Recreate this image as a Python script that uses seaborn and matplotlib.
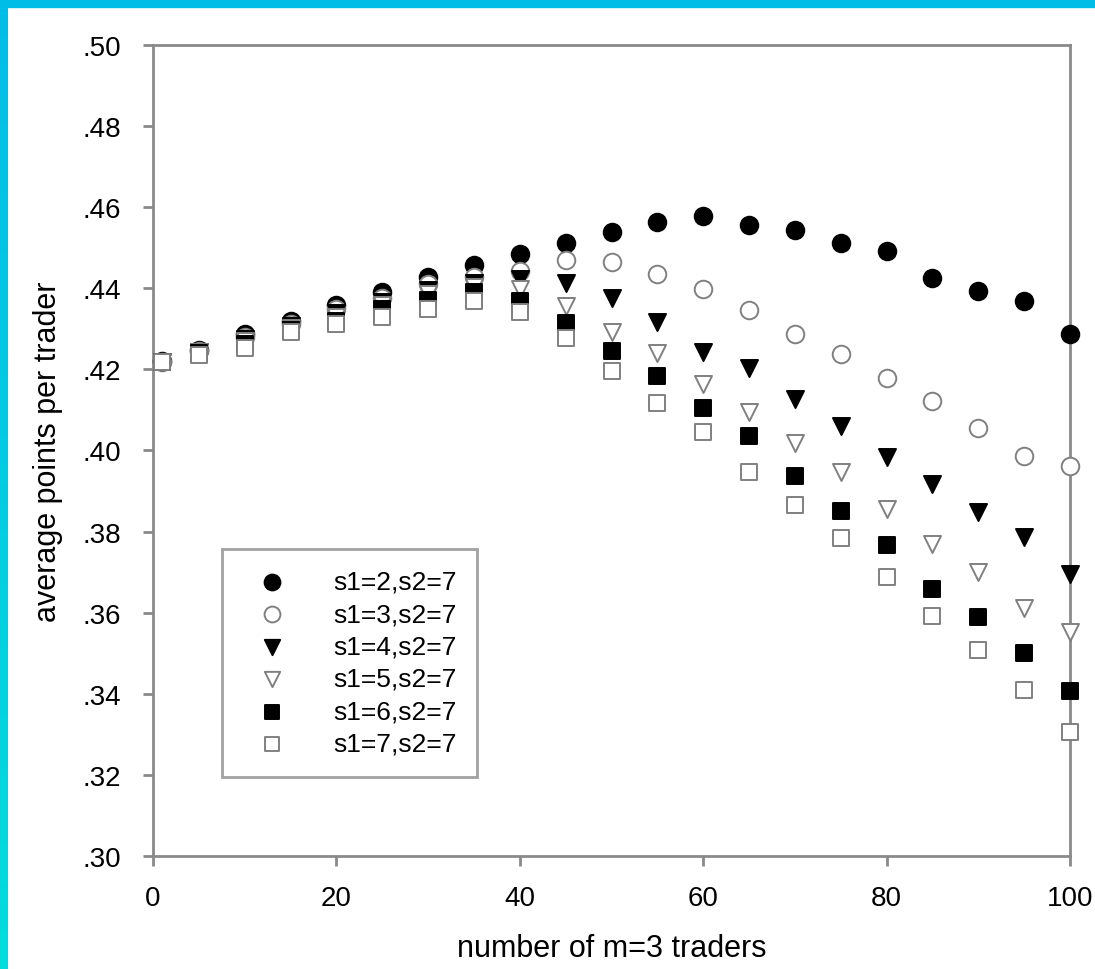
import numpy as np
import pandas as pd
import matplotlib
matplotlib.use("Agg")
import matplotlib.pyplot as plt
from matplotlib.colors import LinearSegmentedColormap
from matplotlib.ticker import FuncFormatter
import seaborn as sns

# number of m=3 traders
traders = [1, 5, 10, 15, 20, 25, 30, 35, 40, 45, 50, 55, 60, 65, 70, 75, 80, 85, 90, 95, 100]

s1_2 = [0.4220, 0.4248, 0.4287, 0.4320, 0.4360, 0.4390, 0.4427, 0.4458, 0.4485, 0.4511, 0.4540,
        0.4564, 0.4578, 0.4556, 0.4545, 0.4511, 0.4493, 0.4425, 0.4393, 0.4369, 0.4287]
s1_3 = [0.4219, 0.4246, 0.4281, 0.4313, 0.4348, 0.4375, 0.4410, 0.4427, 0.4443, 0.4470, 0.4466,
        0.4435, 0.4398, 0.4347, 0.4287, 0.4238, 0.4179, 0.4121, 0.4055, 0.3986, 0.3963]
s1_4 = [0.4219, 0.4244, 0.4276, 0.4308, 0.4340, 0.4366, 0.4395, 0.4412, 0.4422, 0.4414, 0.4375,
        0.4318, 0.4242, 0.4203, 0.4127, 0.4061, 0.3983, 0.3917, 0.3849, 0.3786, 0.3696]
s1_5 = [0.4219, 0.4242, 0.4270, 0.4302, 0.4330, 0.4360, 0.4385, 0.4402, 0.4398, 0.4357, 0.4291,
        0.4240, 0.4165, 0.4094, 0.4018, 0.3946, 0.3856, 0.3770, 0.3700, 0.3611, 0.3553]
s1_6 = [0.4219, 0.4240, 0.4262, 0.4296, 0.4320, 0.4350, 0.4372, 0.4390, 0.4369, 0.4314, 0.4246,
        0.4184, 0.4106, 0.4035, 0.3936, 0.3852, 0.3767, 0.3658, 0.3589, 0.3501, 0.3408]
s1_7 = [0.4218, 0.4236, 0.4254, 0.4291, 0.4312, 0.4329, 0.4349, 0.4369, 0.4341, 0.4277, 0.4195,
        0.4116, 0.4045, 0.3946, 0.3866, 0.3784, 0.3687, 0.3593, 0.3509, 0.3410, 0.3307]

labels = ["s1=2,s2=7", "s1=3,s2=7", "s1=4,s2=7", "s1=5,s2=7", "s1=6,s2=7", "s1=7,s2=7"]
series = [s1_2, s1_3, s1_4, s1_5, s1_6, s1_7]

df = pd.concat([pd.DataFrame({"traders": traders, "points": v, "setting": lab})
                for lab, v in zip(labels, series)], ignore_index=True)

# marker, face, edge
styles = {
    "s1=2,s2=7": ("o", "black", "black"),
    "s1=3,s2=7": ("o", "white", "#808080"),
    "s1=4,s2=7": ("v", "black", "black"),
    "s1=5,s2=7": ("v", "white", "#808080"),
    "s1=6,s2=7": ("s", "black", "black"),
    "s1=7,s2=7": ("s", "white", "#808080"),
}

sns.set_style("white")
plt.rcParams["font.family"] = ["Liberation Sans", "DejaVu Sans"]
plt.rcParams["text.color"] = "black"
plt.rcParams["axes.labelcolor"] = "black"
plt.rcParams["xtick.labelcolor"] = "black"
plt.rcParams["ytick.labelcolor"] = "black"

fig = plt.figure(figsize=(10.95, 9.70), dpi=100)
ax = fig.add_axes([153 / 1095, 1 - 857 / 970, (1070 - 153) / 1095, (857 - 46) / 970])

for lab in labels:
    m, fc, ec = styles[lab]
    sz = 160 if m == "o" else (150 if m == "v" else 130)
    sns.scatterplot(data=df[df["setting"] == lab], x="traders", y="points", ax=ax,
                    marker=m, color=fc, edgecolor=ec, linewidth=1.4, s=sz,
                    label=lab, clip_on=False, zorder=3)

ax.set_xlim(0, 100)
ax.set_ylim(0.30, 0.50)
ax.set_xticks([0, 20, 40, 60, 80, 100])
ax.set_yticks(np.arange(0.30, 0.501, 0.02))
ax.yaxis.set_major_formatter(FuncFormatter(lambda v, p: f"{v:.2f}"[1:]))

for sp in ax.spines.values():
    sp.set_color("#8a8a8a")
    sp.set_linewidth(2)
ax.tick_params(axis="both", which="major", direction="out", length=7, width=2,
               color="#8a8a8a", labelsize=20)
ax.tick_params(axis="y", pad=16)
ax.tick_params(axis="x", pad=14)
ax.tick_params(left=True, bottom=True)

ax.set_xlabel("number of m=3 traders", fontsize=22, labelpad=16)
ax.set_ylabel("average points per trader", fontsize=22, labelpad=14)

leg = ax.legend(loc="lower left", bbox_to_anchor=((222 - 153) / 917, (857 - 778) / 811),
                fontsize=19, frameon=True, fancybox=False, shadow=False,
                handletextpad=1.2, borderpad=0.8, labelspacing=0.32,
                markerscale=0.9, handlelength=2.2, borderaxespad=0)
leg.get_frame().set_edgecolor("#8a8a8a")
leg.get_frame().set_linewidth(2)

# cyan frame on the top and left edge
cmap = LinearSegmentedColormap.from_list("edge", ["#00bde8", "#00dcdc"])
bar_ax = fig.add_axes([0, 0, 8 / 1095, 1])
bar_ax.imshow(np.linspace(0, 1, 100).reshape(-1, 1), aspect="auto", cmap=cmap)
bar_ax.axis("off")
fig.patches.append(plt.Rectangle((0, 1 - 8 / 970), 1, 8 / 970, transform=fig.transFigure,
                                 color="#00bde8", zorder=5))

fig.savefig("out.png", dpi=100)
